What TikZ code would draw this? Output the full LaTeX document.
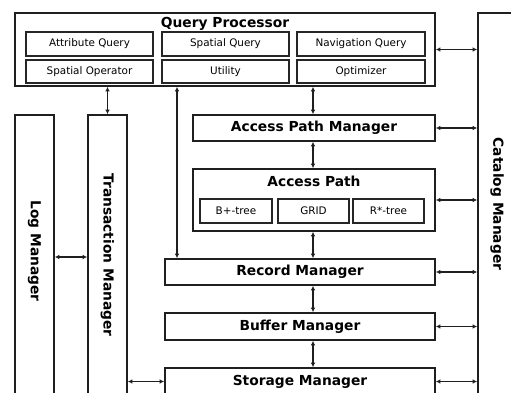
\documentclass[tikz,border=0pt]{standalone}
\usepackage{fontspec}
\setmainfont{DejaVu Sans}
\usetikzlibrary{arrows.meta}
\begin{document}
\begin{tikzpicture}[x=1pt,y=-1pt,
  outer/.style={draw=black!88,line width=1.6pt,inner sep=0pt,minimum width=#1},
  inner/.style={draw=black!85,line width=1.1pt,inner sep=0pt,minimum width=#1,font=\fontsize{10.4}{12}\selectfont},
  title/.style={inner sep=0pt,font=\fontsize{13.8}{16}\bfseries\selectfont},
  link/.style={line width=1.4pt,draw=black!88,{Latex[length=4.5pt,width=4.5pt]}-{Latex[length=4.5pt,width=4.5pt]}}
]
\useasboundingbox (0,0) rectangle (511,393);
\clip (0,0) rectangle (511,393);

% query processor with its six parts
\node[outer=420pt,minimum height=73pt] (qp) at (225,49.5) {};
\node[title] (qpt) at (225,24) {Query Processor};
\node[inner=127pt,minimum height=24pt] (aq) at (89.5,44) {Attribute Query};
\node[inner=127pt,minimum height=24pt] (sq) at (225.5,44) {Spatial Query};
\node[inner=128pt,minimum height=24pt] (nq) at (361,44) {Navigation Query};
\node[inner=127pt,minimum height=23pt] (so) at (89.5,71.5) {Spatial Operator};
\node[inner=127pt,minimum height=23pt] (ut) at (225.5,71.5) {Utility};
\node[inner=128pt,minimum height=23pt] (op) at (361,71.5) {Optimizer};

% vertical managers
\node[outer=42pt,minimum height=383pt] (cat) at (499,204.5) {};
\node[title,rotate=-90] (catt) at (497,204) {Catalog Manager};
\node[outer=39pt,minimum height=280pt] (log) at (34.5,255) {};
\node[title,rotate=-90] (logt) at (34.5,251) {Log Manager};
\node[outer=39pt,minimum height=280pt] (tr) at (107.5,255) {};
\node[title,rotate=-90] (trt) at (107.5,255) {Transaction Manager};

% access layers
\node[outer=242pt,minimum height=26pt,title] (apm) at (314,128) {Access Path Manager};
\node[outer=242pt,minimum height=62pt] (ap) at (314,200) {};
\node[title] (apt) at (314,181) {Access Path};
\node[inner=72pt,minimum height=24pt] (bt) at (236,211) {B+-tree};
\node[inner=71pt,minimum height=24pt] (gr) at (313.5,211) {GRID};
\node[inner=71pt,minimum height=24pt] (rt) at (388.5,211) {R*-tree};

% storage layers
\node[outer=270pt,minimum height=26pt,title] (rec) at (300,272) {Record Manager};
\node[outer=270pt,minimum height=27pt,title] (buf) at (300,326.5) {Buffer Manager};
\node[outer=270pt,minimum height=27pt,title] (sto) at (300,381.5) {Storage Manager};

% helper positions for connectors
\coordinate (qrx) at (177,0);
\coordinate (spine) at (313,0);
\coordinate (lty) at (0,257);

% connectors to the catalog manager
\draw[link] (qp.east) -- (qp.east -| cat.west);
\draw[link] (apm.east) -- (apm.east -| cat.west);
\draw[link] (ap.east) -- (ap.east -| cat.west);
\draw[link] (rec.east) -- (rec.east -| cat.west);
\draw[link] (buf.east) -- (buf.east -| cat.west);
\draw[link] (sto.east) -- (sto.east -| cat.west);

% vertical connectors
\draw[link] (tr.north) -- (tr.north |- qp.south);
\draw[link] (qrx |- qp.south) -- (qrx |- rec.north);
\draw[link] (spine |- qp.south) -- (spine |- apm.north);
\draw[link] (spine |- apm.south) -- (spine |- ap.north);
\draw[link] (spine |- ap.south) -- (spine |- rec.north);
\draw[link] (spine |- rec.south) -- (spine |- buf.north);
\draw[link] (spine |- buf.south) -- (spine |- sto.north);

% side connectors
\draw[link] (log.east |- lty) -- (tr.west |- lty);
\draw[link] (sto.west) -- (sto.west -| tr.east);
\end{tikzpicture}
\end{document}
